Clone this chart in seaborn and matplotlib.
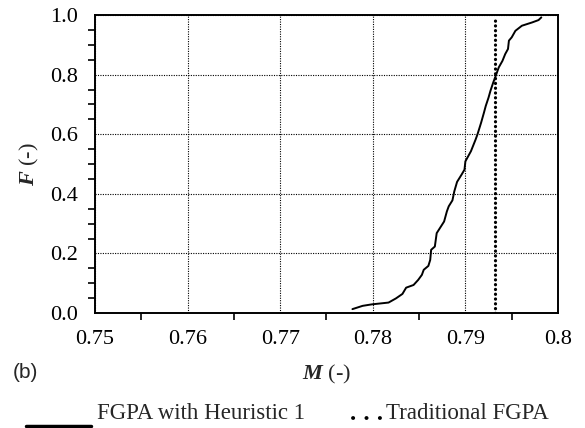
import numpy as np
import pandas as pd
import seaborn as sns
import matplotlib
matplotlib.use("Agg")
import matplotlib.pyplot as plt
from matplotlib.lines import Line2D
from matplotlib.ticker import MultipleLocator

# ---- data ----
heur_M = [0.7778, 0.7789, 0.7799, 0.7817, 0.7825, 0.7832, 0.7836, 0.7844, 0.7849,
          0.7853, 0.7855, 0.7860, 0.7862, 0.7863, 0.7867, 0.7869, 0.7877, 0.7880,
          0.7882, 0.7886, 0.7888, 0.7891, 0.7896, 0.7899, 0.7900, 0.7906, 0.7911,
          0.7913, 0.7917, 0.7920, 0.7922, 0.7925, 0.7927, 0.7930, 0.7933, 0.7936,
          0.7940, 0.7943, 0.7946, 0.7947, 0.7950, 0.7954, 0.7961, 0.7972, 0.7979,
          0.7982]
heur_F = [0.013, 0.024, 0.029, 0.035, 0.049, 0.064, 0.085, 0.094, 0.111,
          0.128, 0.145, 0.158, 0.178, 0.212, 0.223, 0.268, 0.307, 0.341,
          0.358, 0.378, 0.408, 0.440, 0.465, 0.481, 0.509, 0.543, 0.582,
          0.599, 0.639, 0.672, 0.695, 0.723, 0.745, 0.773, 0.798, 0.824,
          0.846, 0.869, 0.886, 0.914, 0.925, 0.947, 0.964, 0.975, 0.983,
          0.992]
trad_M = [0.7932, 0.7932]
trad_F = [0.0, 0.99]
x_ticks = [0.75, 0.76, 0.77, 0.78, 0.79, 0.8]
x_ticklabels = ["0.75", "0.76", "0.77", "0.78", "0.79", "0.8"]
y_ticks = [0.0, 0.2, 0.4, 0.6, 0.8, 1.0]
y_ticklabels = ["0.0", "0.2", "0.4", "0.6", "0.8", "1.0"]

sns.set_style("white")
plt.rcParams["font.family"] = ["Liberation Serif", "DejaVu Serif"]
plt.rcParams["mathtext.fontset"] = "custom"
plt.rcParams["mathtext.rm"] = "Liberation Serif"
plt.rcParams["mathtext.it"] = "Liberation Serif:italic"
plt.rcParams["mathtext.bf"] = "Liberation Serif:bold:italic"

fig = plt.figure(figsize=(5.85, 4.28), dpi=100)
ax = fig.add_axes([95/585, 1-313/428, (558-95)/585, (313-15)/428])

df_h = pd.DataFrame({"M": heur_M, "F": heur_F})
df_t = pd.DataFrame({"M": trad_M, "F": trad_F})

sns.lineplot(data=df_h, x="M", y="F", sort=False, estimator=None,
             color="black", lw=1.4, ax=ax)
sns.lineplot(data=df_t, x="M", y="F", sort=False, estimator=None,
             color="black", lw=2.3, ax=ax,
             linestyle=(0, (0.05, 1.45)), dash_capstyle="round")

ax.set_xlim(0.75, 0.8)
ax.set_ylim(0.0, 1.0)
ax.set_xticks(x_ticks)
ax.set_xticklabels(x_ticklabels)
ax.set_yticks(y_ticks)
ax.set_yticklabels(y_ticklabels)
ax.xaxis.set_minor_locator(MultipleLocator(0.005))
ax.yaxis.set_minor_locator(MultipleLocator(0.05))

ax.grid(True, which="major", color="black", lw=0.8, linestyle=(0, (1, 1.2)))
for s in ax.spines.values():
    s.set_color("black")
    s.set_linewidth(1.4)

ax.tick_params(axis="both", which="major", direction="inout", length=9, width=1.3,
               labelsize=16, colors="black")
ax.tick_params(axis="both", which="minor", direction="out", length=5, width=1.2,
               colors="black", left=True, bottom=True)
ax.tick_params(axis="x", which="major", pad=8)
ax.tick_params(axis="y", which="major", pad=8)

ax.set_xlabel(r"$\mathbf{M}$ (-)", fontsize=16, labelpad=10)
ax.set_ylabel(r"$\mathbf{F}$ (-)", fontsize=16, labelpad=6)

fig.text(13/585, 1-372/428, "(b)", fontsize=15, family="Liberation Sans",
         va="center", ha="left")

# legend drawn below the axes
fig.add_artist(Line2D([26/585, 91/585], [1-426/428, 1-426/428],
                      transform=fig.transFigure, color="black", lw=2.5))
fig.text(97/585, 1-419/428, "FGPA with Heuristic 1", fontsize=16.5,
         va="baseline", ha="left")
dl = Line2D([353/585, 380/585], [1-417.5/428, 1-417.5/428], transform=fig.transFigure,
            color="black", lw=2.8, linestyle=(0, (0.05, 3.4)), dash_capstyle="round")
fig.add_artist(dl)
fig.text(386/585, 1-419/428, "Traditional FGPA", fontsize=16.5,
         va="baseline", ha="left")

fig.savefig("out.png", dpi=100)
